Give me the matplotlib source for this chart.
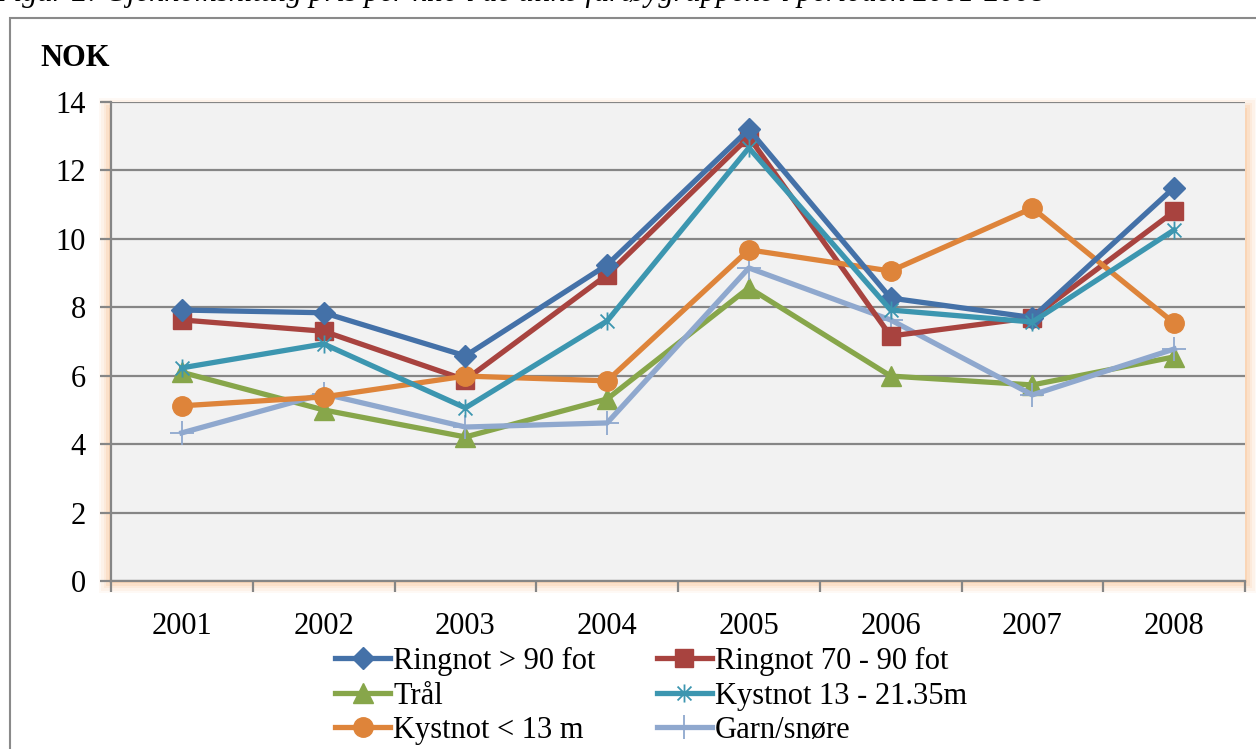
import matplotlib
matplotlib.use('Agg')
import matplotlib.pyplot as plt
from matplotlib.patches import Rectangle
from matplotlib.path import Path
import numpy as np

years = ['2001', '2002', '2003', '2004', '2005', '2006', '2007', '2008']

ringnot_90 = [7.92, 7.84, 6.58, 9.24, 13.2, 8.27, 7.70, 11.5]
ringnot_70_90 = [7.63, 7.30, 5.88, 8.95, 12.98, 7.16, 7.70, 10.8]
traal = [6.10, 5.00, 4.21, 5.32, 8.57, 5.99, 5.73, 6.55]
kystnot_13_21 = [6.23, 6.93, 5.06, 7.60, 12.66, 7.92, 7.57, 10.26]
kystnot_13 = [5.12, 5.38, 5.99, 5.85, 9.68, 9.06, 10.90, 7.54]
garn = [4.33, 5.47, 4.50, 4.62, 9.15, 7.63, 5.44, 6.78]

labels = ['Ringnot > 90 fot', 'Ringnot 70 - 90 fot', 'Trål',
          'Kystnot 13 - 21.35m', 'Kystnot < 13 m', 'Garn/snøre']

plt.rcParams["font.family"] = ["Liberation Serif", "DejaVu Serif"]
fs = 22
plt.rcParams["font.size"] = fs

W, H = 1256, 749
fig = plt.figure(figsize=(W / 100, H / 100), dpi=100)

# outer frame, cut off at right and bottom
fig.patches.append(Rectangle((10 / W, -0.2), 1.5, 1 - 18 / H + 0.2,
                             transform=fig.transFigure, fill=False,
                             edgecolor='#8a8a8a', linewidth=1.5, zorder=0))

# caption, mostly cut off by the top edge
fig.text(-0.004, 1 - 1 / H,
         'Figur 2: Gjennomsnittlig pris per kilo i de ulike fartøygruppene i perioden 2001-2008',
         fontsize=fs, style='italic', va='baseline', ha='left')

left, right, top, bottom = 111, 1245, 102, 581
ax = fig.add_axes([left / W, 1 - bottom / H, (right - left) / W, (bottom - top) / H])
ax.set_zorder(2)

# orange glow around plot area
for i, a in enumerate([0.06, 0.08, 0.10, 0.14, 0.18]):
    g = 12 - i * 2.4
    fig.patches.append(Rectangle(((left - g) / W, 1 - (bottom + g) / H),
                                 (right - left + 2 * g) / W, (bottom - top + 2 * g - 8) / H,
                                 transform=fig.transFigure, facecolor='#f9a860',
                                 edgecolor='none', alpha=a, zorder=1))

ax.set_facecolor('#f2f2f2')
x = np.arange(1, len(years) + 1)

star = Path([(-1, -1), (1, 1), (-1, 1), (1, -1), (0, -1.3), (0, 1.3)],
            [Path.MOVETO, Path.LINETO, Path.MOVETO, Path.LINETO, Path.MOVETO, Path.LINETO])

lw = 3.8
h1, = ax.plot(x, ringnot_90, color='#4471a8', lw=lw, marker='D', ms=11, zorder=5)
h2, = ax.plot(x, ringnot_70_90, color='#a8433f', lw=lw, marker='s', ms=13, zorder=4)
h3, = ax.plot(x, traal, color='#87a64a', lw=lw, marker='^', ms=14, zorder=3)
h4, = ax.plot(x, kystnot_13_21, color='#3c96b0', lw=lw, marker=star, ms=13,
              mew=1.3, mec='#3c96b0', mfc='none', zorder=6)
h5, = ax.plot(x, kystnot_13, color='#de843a', lw=lw, marker='o', ms=14, zorder=4)
h6, = ax.plot(x, garn, color='#8fa8ce', lw=lw, marker='+', ms=17, mew=1.3, zorder=3)

ax.set_xlim(0.5, len(years) + 0.5)
ax.set_ylim(0, 14)
ax.set_yticks(np.arange(0, 15, 2))
ax.set_xticks(x)
ax.set_xticklabels(years)
ax.set_xticks(np.arange(0.5, len(years) + 1, 1), minor=True)
ax.grid(axis='y', color='#868686', lw=1.6)
ax.set_axisbelow(True)
for s in ['top', 'right']:
    ax.spines[s].set_visible(False)
for s in ['left', 'bottom']:
    ax.spines[s].set_color('#868686')
    ax.spines[s].set_linewidth(1.6)
ax.tick_params(axis='y', length=8, width=1.6, color='#868686', pad=10, labelsize=fs)
ax.tick_params(axis='x', which='major', length=0, pad=22, labelsize=fs)
ax.tick_params(axis='x', which='minor', length=8, width=1.6, color='#868686')

fig.text(40 / W, 1 - 58 / H, 'NOK', fontsize=fs, fontweight='bold', va='center')

handles = [h1, h3, h5, h2, h4, h6]
labs = [labels[0], labels[2], labels[4], labels[1], labels[3], labels[5]]
fig.legend(handles, labs, ncol=2, loc='upper left',
           bbox_to_anchor=(335 / W, 1 - 647 / H), frameon=False,
           borderpad=0, borderaxespad=0, handlelength=1.8, handletextpad=0.1,
           labelspacing=0.18, columnspacing=2.0, fontsize=fs)

plt.savefig('out.png', dpi=100)
plt.close()
